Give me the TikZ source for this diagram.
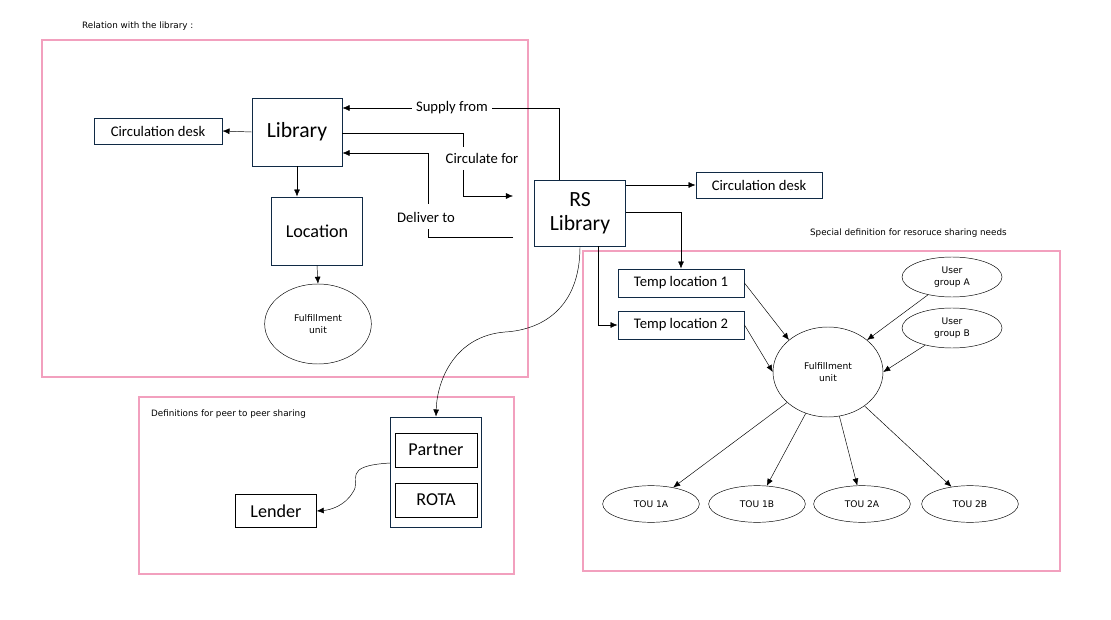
\documentclass[tikz,border=0pt]{standalone}
\usepackage{fontspec}
\setmainfont{Carlito}
\newfontfamily\smallsans{DejaVu Sans}
\usetikzlibrary{shapes.geometric,arrows.meta}
\definecolor{navy}{HTML}{102A45}
\definecolor{framepink}{HTML}{F2A0BE}
\begin{document}
\begin{tikzpicture}[x=0.03cm,y=-0.03cm,
  box/.style={draw=navy, thick, rectangle, inner sep=0pt},
  oval/.style={draw, ellipse, inner sep=0pt, align=center, font=\smallsans\fontsize{7.8}{10}\selectfont},
  frame/.style={draw=framepink, line width=1.8pt},
  note/.style={font=\smallsans\fontsize{7.5}{9}\selectfont, anchor=west},
  arr/.style={-{Latex[length=6pt,width=5pt]}, thin},
  lbl/.style={font=\fontsize{12.5}{14}\selectfont}]
	\useasboundingbox (0,0) rectangle (1111,620);

	% frames
	\draw[frame] (42,40) rectangle (528,377);
	\draw[frame] (139,397) rectangle (514,574);
	\draw[frame] (583,251) rectangle (1060,571);
	\node[note] (t1) at (78,26) {Relation with the library :};
	\node[note] (t2) at (147,414) {Definitions for peer to peer sharing};
	\node[note] (t3) at (806,233) {Special definition for resoruce sharing needs};

	% library side
	\node[box, minimum width=2.7cm, minimum height=2.04cm, font=\fontsize{18.5}{20}\selectfont] (lib) at (297,132) {Library};
	\node[box, minimum width=3.84cm, minimum height=0.78cm, lbl] (circA) at (158,131) {Circulation desk};
	\node[box, minimum width=2.73cm, minimum height=2.04cm, font=\fontsize{15.5}{17}\selectfont] (loc) at (317,231) {Location};
	\node[oval, minimum width=3.2cm, minimum height=2.4cm] (fulA) at (318,324) {Fulfillment\\unit};
	\draw[arr] (lib.west) -- (circA.east);
	\draw[arr] (lib.south) -- (lib.south |- loc.north);
	\draw[arr] (loc.south) -- (fulA.north);

	% RS library
	\node[box, minimum width=2.73cm, minimum height=1.98cm, align=center, font=\fontsize{18.5}{20}\selectfont] (rs) at (580,213) {RS\\Library};
	\node[box, minimum width=3.78cm, minimum height=0.78cm, lbl] (circB) at (759,185) {Circulation desk};
	\node[box, minimum width=3.78cm, minimum height=0.84cm, lbl] (temp1) at (681,283) {Temp location 1};
	\node[box, minimum width=3.78cm, minimum height=0.84cm, lbl] (temp2) at (681,325) {Temp location 2};

	% labelled links
	\node[lbl] (supply) at (452,108) {Supply from};
	\node[lbl] (circfor) at (482,158) {Circulate for};
	\node[lbl] (deliver) at (426,217) {Deliver to};
	\draw (559,180) |- (supply.east);
	\draw[arr] (supply.west) -- (lib.east |- supply);
	\draw (lib.east |- 0,133) -| (463,147);
	\draw[arr] (463,170) |- (513,196);
	\draw (513,237) -| (428,229);
	\draw[arr] (428,204) |- (lib.east |- 0,153);

	% RS outputs
	\draw[arr] (rs.east |- circB) -- (circB.west);
	\draw[arr] (rs.east |- 0,212) -| (temp1.north);
	\draw[arr] (598,246) |- (temp2.west);

	% peer to peer
	\node[box, minimum width=2.73cm, minimum height=3.3cm] (peer) at (436,472) {};
	\node[draw, minimum width=2.46cm, minimum height=1.02cm, inner sep=0pt, font=\fontsize{15.5}{17}\selectfont] (partner) at (436,450) {Partner};
	\node[draw, minimum width=2.46cm, minimum height=1.02cm, inner sep=0pt, font=\fontsize{15.5}{17}\selectfont] (rota) at (436,500) {ROTA};
	\node[draw, minimum width=2.43cm, minimum height=0.99cm, inner sep=0pt, font=\fontsize{15.5}{17}\selectfont] (lender) at (276,511) {Lender};
	\draw[arr] (rs.south) .. controls (580,310) and (540,330) .. (505,332) .. controls (455,336) and (437,380) .. (peer.north);
	\draw[arr] (peer.west |- 0,463) .. controls (340,466) and (362,480) .. (353,492) .. controls (345,506) and (330,510) .. (lender.east);

	% fulfillment unit
	\node[oval, minimum width=3.3cm, minimum height=2.7cm] (fulB) at (828,372) {Fulfillment\\unit};
	\node[oval, minimum width=3cm, minimum height=1.2cm] (ugA) at (952,277) {User\\group A};
	\node[oval, minimum width=3cm, minimum height=1.2cm] (ugB) at (952,328) {User\\group B};
	\draw[arr] (temp1.east) -- (fulB.north west);
	\draw[arr] (temp2.east) -- (fulB.west);
	\draw[arr] (ugA) -- (fulB.north east);
	\draw[arr] (ugB) -- (fulB.east);
	\foreach \name/\x in {1A/651, 1B/757, 2A/862, 2B/970} {
		\node[oval, minimum width=2.9cm, minimum height=1.1cm] (tou\name) at (\x,504) {TOU \name};
		\draw[arr] (fulB) -- (tou\name);
	}
\end{tikzpicture}
\end{document}
